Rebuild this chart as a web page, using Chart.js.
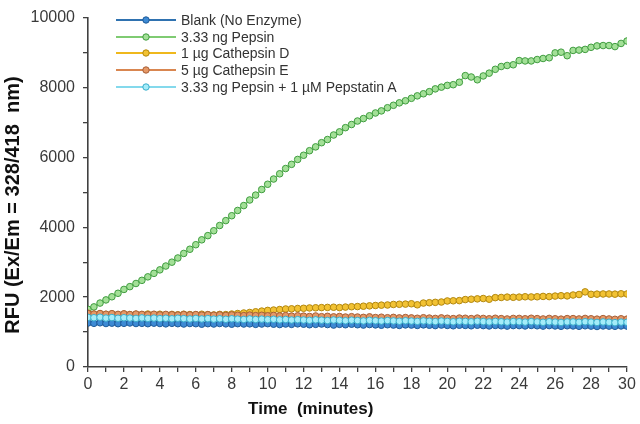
<!DOCTYPE html>
<html><head><meta charset="utf-8">
<script src="https://cdn.jsdelivr.net/npm/chart.js@4.4.1/dist/chart.umd.min.js"></script>
<style>
html,body{margin:0;padding:0;background:#fff;}
#wrap{position:relative;width:640px;height:424px;}
#legend{position:absolute;left:114px;top:11.5px;font-family:"Liberation Sans",Arial,sans-serif;font-size:14px;color:#333;}
.row{display:flex;align-items:center;height:16.7px;white-space:nowrap;}
.row svg{margin-right:3px;display:block}
</style></head><body>
<div id="wrap"><canvas id="c" width="640" height="424"></canvas><div id="legend"></div></div>
<script>
const seriesLabels = ['Blank (No Enzyme)', '3.33 ng Pepsin', '1 \u00b5g Cathepsin D', '5 \u00b5g Cathepsin E', '3.33 ng Pepsin + 1 \u00b5M Pepstatin A'];
const xTitle = 'Time  (minutes)';
const yTitle = 'RFU (Ex/Em = 328/418  nm)';
const minutes = [0,0.33,0.67,1,1.33,1.67,2,2.33,2.67,3,3.33,3.67,4,4.33,4.67,5,5.33,5.67,6,6.33,6.67,7,7.33,7.67,8,8.33,8.67,9,9.33,9.67,10,10.33,10.67,11,11.33,11.67,12,12.33,12.67,13,13.33,13.67,14,14.33,14.67,15,15.33,15.67,16,16.33,16.67,17,17.33,17.67,18,18.33,18.67,19,19.33,19.67,20,20.33,20.67,21,21.33,21.67,22,22.33,22.67,23,23.33,23.67,24,24.33,24.67,25,25.33,25.67,26,26.33,26.67,27,27.33,27.67,28,28.33,28.67,29,29.33,29.67,30];
const blank = [1260,1250,1265,1245,1255,1240,1250,1260,1245,
 1250,1240,1255,1245,1235,1250,1240,1230,1245,
 1240,1225,1240,1230,1245,1235,1225,1240,1230,
 1235,1220,1230,1240,1225,1215,1230,1220,1235,
 1225,1210,1220,1230,1215,1200,1220,1210,1225,
 1210,1200,1215,1205,1195,1210,1200,1190,1205,
 1200,1190,1205,1195,1185,1200,1190,1180,1195,
 1190,1180,1195,1185,1175,1190,1180,1170,1185,
 1185,1175,1190,1180,1170,1185,1175,1165,1180,
 1175,1165,1180,1170,1160,1175,1170,1165,1175,1170];
const pepsin = [1650,1720,1830,1920,2010,2110,2220,2300,2390,2480,2580,2680,2780,2890,3000,3120,3250,3370,
 3500,3640,3760,3900,4050,4190,4330,4480,4620,4780,4920,5080,5230,5380,5530,5680,5800,5940,
 6060,6190,6300,6420,6510,6640,6730,6850,6940,7040,7110,7190,7270,7330,7420,7490,7560,7620,
 7690,7760,7820,7880,7960,8010,8060,8080,8150,8340,8300,8220,8330,8410,8520,8600,8630,8650,
 8770,8760,8760,8800,8830,8850,8990,9010,8910,9060,9070,9090,9150,9190,9200,9200,9170,9260,9330];
const cathepsinD = [1540,1510,1525,1505,1520,1500,1515,1500,1510,
 1500,1515,1495,1510,1490,1505,1495,1510,1500,
 1495,1510,1500,1490,1505,1500,1515,1530,1545,
 1560,1580,1600,1620,1630,1645,1660,1665,1675,
 1680,1690,1695,1700,1705,1710,1700,1715,1725,
 1730,1740,1750,1760,1770,1775,1790,1795,1800,
 1810,1780,1830,1840,1850,1860,1890,1895,1900,
 1930,1940,1950,1960,1940,1985,1990,2000,1995,
 2000,2010,2005,2010,2020,2015,2030,2040,2035,
 2060,2075,2150,2080,2085,2090,2090,2085,2095,2090];
const cathepsinE = [1530,1515,1530,1510,1525,1505,1520,1500,1515,
 1505,1495,1510,1490,1505,1495,1485,1500,1490,
 1500,1485,1495,1480,1490,1475,1490,1480,1470,
 1485,1470,1480,1465,1475,1460,1470,1455,1465,
 1455,1445,1460,1440,1450,1435,1445,1430,1440,
 1430,1420,1435,1415,1425,1410,1420,1405,1415,
 1405,1395,1410,1400,1390,1405,1395,1385,1400,
 1395,1385,1400,1390,1380,1395,1385,1375,1390,
 1390,1380,1395,1385,1375,1390,1380,1370,1385,
 1385,1375,1390,1380,1370,1385,1375,1365,1380,1370];
const pepstatin = [1420,1410,1425,1400,1415,1395,1410,1400,1390,
 1405,1390,1400,1385,1395,1380,1395,1385,1375,
 1390,1375,1385,1370,1380,1365,1380,1370,1360,
 1375,1360,1370,1355,1365,1350,1360,1345,1355,
 1345,1335,1350,1340,1330,1345,1335,1325,1340,
 1330,1320,1335,1325,1315,1330,1320,1310,1325,
 1315,1305,1320,1310,1300,1315,1305,1295,1310,
 1305,1295,1310,1300,1290,1305,1295,1285,1300,
 1295,1285,1300,1290,1280,1295,1285,1275,1290,
 1290,1280,1295,1285,1275,1290,1280,1270,1285,1280];

const seriesValues = [blank, pepsin, cathepsinD, cathepsinE, pepstatin];
const lineColors = ['#2f72b0', '#7fcb72', '#efb81c', '#d98650', '#84d9ec'];
const fillColors = ['#3d8ad4', '#a3e097', '#f2c233', '#e59866', '#a4ecf9'];
const edgeColors = ['#1e5a98', '#3f9c3f', '#b2870f', '#a75f38', '#3aaecb'];
const drawOrder = [5, 4, 3, 2, 1];

const datasets = seriesValues.map((vals, i) => ({
  label: seriesLabels[i],
  data: vals.map((v, j) => ({x: minutes[j], y: v})),
  borderColor: lineColors[i],
  backgroundColor: fillColors[i],
  pointBackgroundColor: fillColors[i],
  pointBorderColor: edgeColors[i],
  pointBorderWidth: 1,
  pointRadius: 3.3,
  borderWidth: 1.5,
  tension: 0,
  order: drawOrder[i]
}));

const axisColor = '#404040';
const tickFont = {family: '"Liberation Sans", Arial, sans-serif', size: 16};

new Chart(document.getElementById('c'), {
  type: 'line',
  data: {datasets},
  options: {
    responsive: false,
    animation: false,
    devicePixelRatio: 1,
    layout: {padding: {top: 17, right: 13, left: 0, bottom: 0}},
    plugins: {legend: {display: false}, tooltip: {enabled: false}},
    scales: {
      x: {
        type: 'linear', min: 0, max: 30,
        afterFit: s => { s.height = 57; },
        border: {color: axisColor, width: 1.6},
        grid: {drawOnChartArea: false, drawTicks: true, tickLength: 5, color: axisColor, lineWidth: 1.3},
        ticks: {stepSize: 1, autoSkip: false, maxRotation: 0, padding: 3, color: '#3a3a3a', font: tickFont,
                callback: v => (v % 2 === 0 ? String(v) : '')},
        title: {display: true, text: xTitle + '\u2003\u2003\u2003\u2003\u2003\u2002', color: '#111',
                font: {family: '"Liberation Sans", Arial, sans-serif', size: 17, weight: 'bold'}, padding: {top: 4, bottom: 4}}
      },
      y: {
        min: 0, max: 10000,
        afterFit: s => { s.width = 88; },
        border: {color: axisColor, width: 1.6},
        grid: {drawOnChartArea: false, drawTicks: true, tickLength: 5, color: axisColor, lineWidth: 1.3},
        ticks: {stepSize: 1000, padding: 8, color: '#3a3a3a', font: tickFont,
                callback: v => (v % 2000 === 0 ? String(v) : '')},
        title: {display: true, text: yTitle + '\u2002\u2002 ', color: '#111',
                font: {family: '"Liberation Sans", Arial, sans-serif', size: 20, weight: 'bold'}, padding: {top: 1, bottom: 4}}
      }
    }
  }
});

const legend = document.getElementById('legend');
seriesLabels.forEach((lab, i) => {
  const row = document.createElement('div');
  row.className = 'row';
  row.innerHTML = '<svg width="64" height="10"><line x1="2" y1="5" x2="62" y2="5" stroke="' + lineColors[i] +
    '" stroke-width="2.2"/><circle cx="32" cy="5" r="3.2" fill="' + fillColors[i] + '" stroke="' + edgeColors[i] +
    '" stroke-width="1"/></svg>';
  const span = document.createElement('span');
  span.textContent = lab;
  row.appendChild(span);
  legend.appendChild(row);
});
</script>
</body></html>
